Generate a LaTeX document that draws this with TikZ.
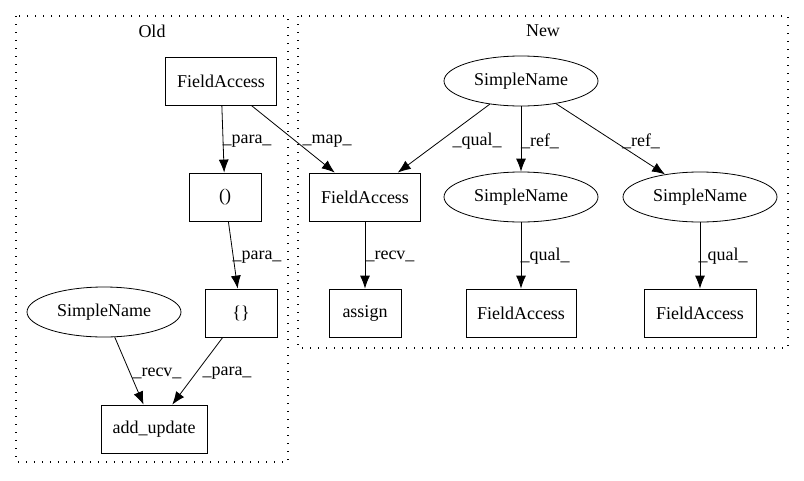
\documentclass[tikz,border=0pt]{standalone}
\usepackage{fontspec}
\setmainfont{Liberation Serif}
\usetikzlibrary{shapes.geometric,arrows.meta}

\begin{document}
\begin{tikzpicture}[x=1pt,y=-1pt,line width=0.8pt,
  font=\fontsize{18}{21}\selectfont,
  box/.style={draw,rectangle,minimum height=48pt,inner sep=0pt},
  oval/.style={draw,ellipse,minimum width=154pt,minimum height=50pt,inner sep=0pt},
  edge/.style={-{Latex[length=13pt,width=10pt]}},
  cluster/.style={line width=1.2pt,dash pattern=on 1.2pt off 6.8pt}]

\useasboundingbox (0,0) rectangle (804,480);

% clusters
\draw[cluster] (16,16) rectangle (288,462);
\node (oldlbl) at (152,31) {Old};
\draw[cluster] (298,16) rectangle (788,348);
\node (newlbl) at (543,31) {New};

% old
\node[box,minimum width=111pt] (oldfa) at (221,81) {FieldAccess};
\node[box,minimum width=72pt] (paren) at (225,197) {()};
\node[box,minimum width=72pt] (brace) at (241,313) {\{\}};
\node[oval] (oldsn) at (104,312) {SimpleName};
\node[box,minimum width=106pt] (addup) at (154,429) {add\_update};

% new
\node[oval] (topsn) at (521,81) {SimpleName};
\node[box,minimum width=111pt] (newfa) at (365,197) {FieldAccess};
\node[oval] (midsn) at (521,197) {SimpleName};
\node[oval] (rightsn) at (700,197) {SimpleName};
\node[box,minimum width=72pt] (assign) at (365,313) {assign};
\node[box,minimum width=110pt] (midfa) at (521,313) {FieldAccess};
\node[box,minimum width=112pt] (rightfa) at (700,313) {FieldAccess};

% edges
\draw[edge] (oldfa) -- (paren);
\draw[edge] (oldfa) -- (newfa);
\draw[edge] (paren) -- (brace);
\draw[edge] (oldsn) -- (addup);
\draw[edge] (brace) -- (addup);
\draw[edge] (topsn) -- (newfa);
\draw[edge] (topsn) -- (midsn);
\draw[edge] (topsn) -- (rightsn);
\draw[edge] (newfa) -- (assign);
\draw[edge] (midsn) -- (midfa);
\draw[edge] (rightsn) -- (rightfa);

% edge labels
\node (lpara1) at (247,141) {\_para\_};
\node (lmap) at (327,141) {\_map\_};
\node (lpara2) at (257,257) {\_para\_};
\node (lrecv1) at (157,373) {\_recv\_};
\node (lpara3) at (227,373) {\_para\_};
\node (lqual1) at (477,141) {\_qual\_};
\node (lref1) at (540,141) {\_ref\_};
\node (lref2) at (641,141) {\_ref\_};
\node (lrecv2) at (390,256) {\_recv\_};
\node (lqual2) at (545,256) {\_qual\_};
\node (lqual3) at (723,256) {\_qual\_};

\end{tikzpicture}
\end{document}
